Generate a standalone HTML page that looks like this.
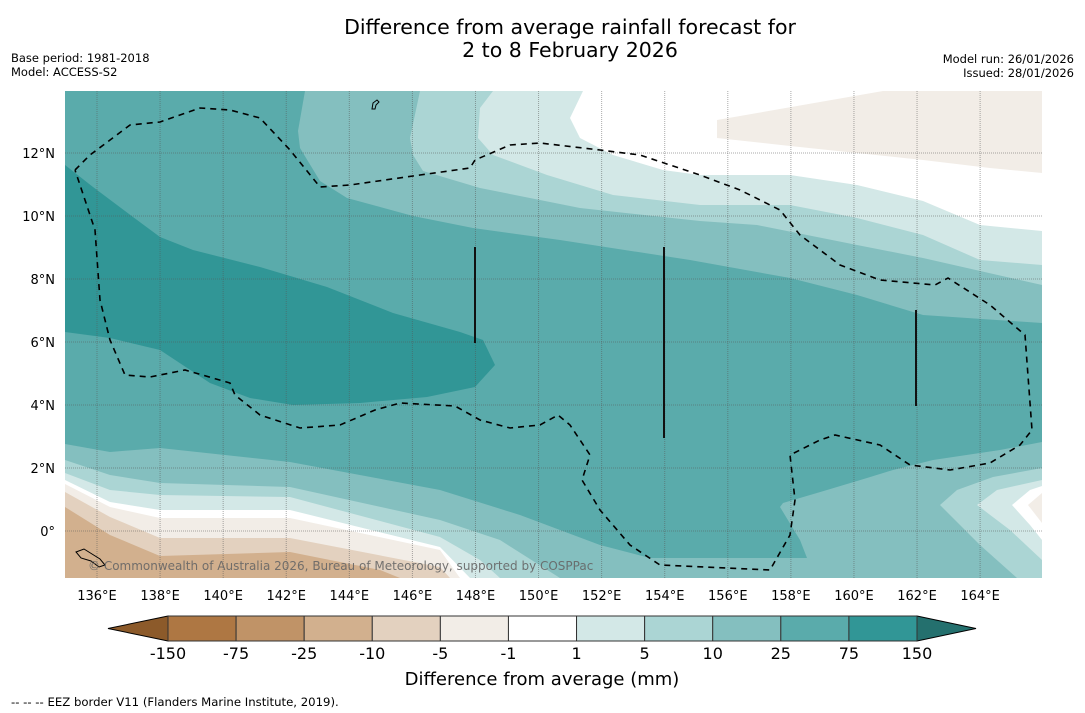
<!DOCTYPE html>
<html><head><meta charset="utf-8">
<style>
body{margin:0;background:#fff;width:1085px;height:713px;overflow:hidden;font-family:"DejaVu Sans","Liberation Sans",sans-serif;}
svg{display:block}
</style></head>
<body>
<svg id="chart" width="1085" height="713" viewBox="0 0 1085 713" xmlns="http://www.w3.org/2000/svg">
<text x="570" y="34" font-size="20.5" text-anchor="middle" fill="#000">Difference from average rainfall forecast for</text>
<text x="570" y="57" font-size="20.5" text-anchor="middle" fill="#000">2 to 8 February 2026</text>
<text x="11" y="62" font-size="11.5">Base period: 1981-2018</text>
<text x="11" y="76" font-size="11.5">Model: ACCESS-S2</text>
<text x="1074" y="63" font-size="11.5" text-anchor="end">Model run: 26/01/2026</text>
<text x="1074" y="77" font-size="11.5" text-anchor="end">Issued: 28/01/2026</text>

<defs><clipPath id="mapclip"><rect x="65" y="91" width="977" height="487"/></clipPath></defs>
<g clip-path="url(#mapclip)">
<rect x="65" y="91" width="977" height="487" fill="#5aabab"/>
<polygon fill="#319696" points="65,165 93,187 133,217 160,237 193,250 260,267 327,287 393,313 460,332 483,340 495,365 475,387 427,397 360,403 293,405 250,398 210,383 160,350 110,338 65,332"/>
<polygon fill="#84bfbf" points="305,91 298,131 300,148 320,181 347,198 413,216 473,228 560,240 690,260 790,278 857,295 923,315 1042,323 1042,91"/>
<polygon fill="#abd5d4" points="420,91 410,138 413,155 423,171 480,188 580,208 700,221 757,225 857,245 923,258 1042,285 1042,91"/>
<polygon fill="#d3e8e7" points="493,91 480,108 478,138 493,155 547,175 613,195 700,205 790,205 857,218 923,235 980,260 1042,265 1042,91"/>
<polygon fill="#ffffff" points="583,91 570,118 580,138 613,155 663,170 700,175 790,175 857,185 923,201 980,225 1042,231 1042,91"/>
<polygon fill="#f2ede7" points="717,120 883,91 1042,91 1042,173 990,168 923,160 790,146 717,138"/>
<polygon fill="#84bfbf" points="65,444 110,452 160,448 290,462 440,490 520,515 600,545 650,558 807,558 800,540 780,507 783,503 827,490 867,478 893,470 933,460 1000,450 1042,442 1042,578 65,578"/>
<polygon fill="#abd5d4" points="65,460 110,475 160,483 290,487 440,520 500,540 560,578 65,578"/>
<polygon fill="#d3e8e7" points="65,473 110,490 160,495 290,497 440,537 480,560 500,578 65,578"/>
<polygon fill="#ffffff" points="65,480 110,502 160,510 290,510 440,547 470,578 65,578"/>
<polygon fill="#f2ede7" points="65,484 110,507 160,518 290,518 440,550 460,578 65,578"/>
<polygon fill="#e3d1bf" points="65,492 110,517 160,538 290,538 440,567 450,578 65,578"/>
<polygon fill="#d2b08e" points="65,507 110,535 160,556 290,552 380,570 400,578 65,578"/>
<polygon fill="#abd5d4" points="940,505 957,490 993,477 1042,468 1042,578 1017,578 980,545"/>
<polygon fill="#d3e8e7" points="977,505 997,490 1042,480 1042,560 1010,530"/>
<polygon fill="#ffffff" points="1012,505 1030,490 1042,486 1042,540 1030,525"/>
<polygon fill="#f2ede7" points="1028,505 1042,493 1042,523"/>
<g id="grid"></g>
<polyline fill="none" stroke="#000" stroke-width="1.6" stroke-dasharray="6,5" points="75,170 90,155 130,125 160,122 200,108 230,110 260,118 290,150 320,187 350,185 420,175 470,168 475,160 510,145 540,143 600,150 640,155 700,175 740,190 780,210 800,235 840,265 880,280 935,285 948,278 990,305 1025,335 1032,430 1020,445 990,463 950,470 910,465 880,445 835,435 820,440 790,455 795,500 790,535 770,570 660,565 630,545 600,510 582,480 590,455 570,425 558,415 540,425 510,428 480,420 455,406 400,403 375,410 340,425 300,428 260,415 235,395 230,383 185,370 150,377 125,375 110,340 100,300 95,230 85,200 75,170"/>
<line x1="475" y1="247" x2="475" y2="343" stroke="#111" stroke-width="2"/>
<line x1="664" y1="247" x2="664" y2="438" stroke="#111" stroke-width="2"/>
<line x1="916" y1="310" x2="916" y2="406" stroke="#111" stroke-width="2"/>
<path d="M373,103 l4,-3 l2,2 l-3,3 l-1,4 l-3,0 z" fill="none" stroke="#000" stroke-width="1"/>
<path d="M76,552 l8,-3 l8,5 l8,5 l5,6 l-6,2 l-8,-6 l-10,-3 z" fill="none" stroke="#000" stroke-width="1"/>
<text x="88" y="570" font-size="12" fill="#666" fill-opacity="0.9">© Commonwealth of Australia 2026, Bureau of Meteorology, supported by COSPPac</text>
</g>
<g id="axes"></g>
<g id="cbar"></g>
<text x="542" y="685" font-size="18" text-anchor="middle">Difference from average (mm)</text>
<text x="11" y="706" font-size="11.7">--  --  -- EEZ border V11 (Flanders Marine Institute, 2019).</text>
</svg>
<script>
const lonTicks=[136,138,140,142,144,146,148,150,152,154,156,158,160,162,164];
const latTicks=[0,2,4,6,8,10,12];
const cbarLevels=["-150","-75","-25","-10","-5","-1","1","5","10","25","75","150"];
const cbarColors=["#ae7743","#c09367","#d2b08e","#e3d1bf","#f2ede7","#ffffff","#d3e8e7","#abd5d4","#84bfbf","#5aabab","#319696"];
const lowExtendColor="#8c5a2a", highExtendColor="#24706e";
const NS="http://www.w3.org/2000/svg";
const x=lon=>97+(lon-136)*31.54;
const y=lat=>531-lat*31.5;
function mk(tag,attrs,parent){const e=document.createElementNS(NS,tag);for(const k in attrs)e.setAttribute(k,attrs[k]);parent.appendChild(e);return e;}
const grid=document.getElementById('grid'),axes=document.getElementById('axes'),cb=document.getElementById('cbar');
lonTicks.forEach(l=>{
  const g=mk('line',{x1:x(l),x2:x(l),y1:91,y2:578,stroke:'#555','stroke-opacity':0.5,'stroke-width':1,'stroke-dasharray':'1,1'},grid);
  
  
  const t=mk('text',{x:x(l),y:600,'font-size':13,'text-anchor':'middle'},axes);t.textContent=l+'°E';
  
  
});
latTicks.forEach(l=>{
  const g=mk('line',{x1:65,x2:1042,y1:y(l),y2:y(l),stroke:'#555','stroke-opacity':0.5,'stroke-width':1,'stroke-dasharray':'1,1'},grid);
  
  
  const t=mk('text',{x:55,y:y(l)+5,'font-size':13,'text-anchor':'end'},axes);t.textContent=l===0?'0°':l+'°N';
  
  
});
const cx0=168,cx1=917,cy0=616,cy1=641,n=cbarColors.length,w=(cx1-cx0)/n;
const lt=mk('polygon',{points:`108,${(cy0+cy1)/2} ${cx0},${cy0} ${cx0},${cy1}`,fill:lowExtendColor,stroke:'#000','stroke-width':1},cb);


const rt=mk('polygon',{points:`976,${(cy0+cy1)/2} ${cx1},${cy0} ${cx1},${cy1}`,fill:highExtendColor,stroke:'#000','stroke-width':1},cb);


cbarColors.forEach((c,i)=>{
  const r=mk('rect',{x:cx0+i*w,y:cy0,width:w,height:cy1-cy0,fill:c,stroke:'#333','stroke-width':1},cb);
  
  
});
cbarLevels.forEach((v,i)=>{
  const t=mk('text',{x:cx0+i*w,y:659,'font-size':16,'text-anchor':'middle'},cb);t.textContent=v;
  
  
});
</script>
</body></html>
